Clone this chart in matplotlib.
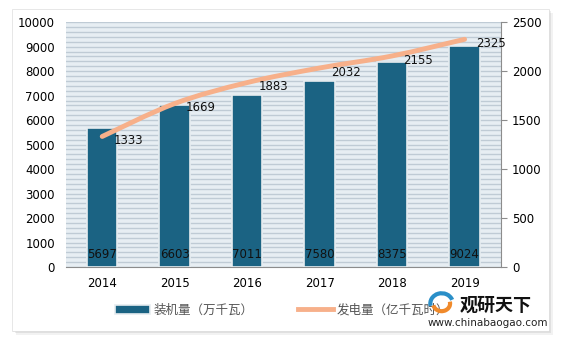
import matplotlib
matplotlib.use("Agg")
import matplotlib.pyplot as plt
from matplotlib.patches import Rectangle, Arc
from matplotlib.path import Path
from matplotlib.patches import PathPatch
import numpy as np

plt.rcParams['font.family'] = ['DejaVu Sans', 'Noto Sans CJK SC']

years = ['2014', '2015', '2016', '2017', '2018', '2019']
capacity = [5697, 6603, 7011, 7580, 8375, 9024]      # 装机量（万千瓦）
generation = [1333, 1669, 1883, 2032, 2155, 2325]    # 发电量（亿千瓦时）

bar_color = '#1b6383'
line_color = '#f7b08a'

fig = plt.figure(figsize=(5.64, 3.41), dpi=100)

# outer panel with a soft shadow
for i, a in enumerate([0.05, 0.07, 0.09]):
    d = (3 - i) * 0.004
    fig.patches.append(Rectangle((0.021 + d * 0.6, 0.03 - d), 0.952, 0.945,
                                 transform=fig.transFigure, facecolor='#000000',
                                 alpha=a, edgecolor='none', zorder=0))
fig.patches.append(Rectangle((0.021, 0.03), 0.952, 0.945, transform=fig.transFigure,
                             facecolor='white', edgecolor='#dddddd', lw=0.5, zorder=1))

ax = fig.add_axes([0.117, 0.217, 0.771, 0.718])
ax.set_facecolor('#e7eef3')
ax.set_zorder(2)
x = np.arange(len(years))

# striped background
ax.set_ylim(0, 10000)
ax.set_yticks(np.arange(0, 10001, 1000))
ax.set_yticks(np.arange(0, 10001, 200), minor=True)
ax.grid(True, which='both', axis='y', color='#bfcbd5', lw=1.0, zorder=0)
ax.set_axisbelow(True)

ax.bar(x, capacity, width=0.42, color=bar_color, edgecolor='#e6ecf0', lw=1.2,
       zorder=3, label='装机量（万千瓦）')
for xi, v in zip(x, capacity):
    ax.text(xi, 260, str(v), ha='center', va='bottom', fontsize=8.5,
            color='#111111', zorder=5)

ax.set_xlim(-0.5, len(years) - 0.5)
ax.set_xticks(x)
ax.set_xticklabels(years, fontsize=8.5)
ax.tick_params(axis='x', length=0, pad=7)
ax.tick_params(axis='y', which='both', length=0, labelsize=8.5, pad=8)
for s in ['left', 'top', 'right']:
    ax.spines[s].set_visible(False)
ax.spines['bottom'].set_color('#8c8c8c')

ax2 = ax.twinx()
ax2.set_ylim(0, 2500)
ax2.set_yticks(np.arange(0, 2501, 500))
ax2.tick_params(axis='y', length=4, color='#8c8c8c', labelsize=8.5, pad=4)
for s in ['left', 'top', 'bottom']:
    ax2.spines[s].set_visible(False)
ax2.spines['right'].set_color('#8c8c8c')

# smoothed line (Catmull-Rom as cubic Bezier)
pts = np.column_stack([x, generation]).astype(float)
ext = np.vstack([pts[0], pts, pts[-1]])
verts = [tuple(pts[0])]
codes = [Path.MOVETO]
for i in range(1, len(ext) - 2):
    p0, p1, p2, p3 = ext[i - 1], ext[i], ext[i + 1], ext[i + 2]
    c1 = p1 + (p2 - p0) / 6
    c2 = p2 - (p3 - p1) / 6
    verts += [tuple(c1), tuple(c2), tuple(p2)]
    codes += [Path.CURVE4] * 3
ax2.add_patch(PathPatch(Path(verts, codes), facecolor='none', edgecolor=line_color,
                        lw=3.5, capstyle='round', zorder=4))
ax2.plot([], [], color=line_color, lw=3.5, label='发电量（亿千瓦时）')
for xi, v in zip(x, generation):
    ax2.annotate(str(v), (xi, v), xytext=(8, -3), textcoords='offset points',
                 ha='left', va='center', fontsize=8.5, color='#111111', zorder=6)

# legend
h1, l1 = ax.get_legend_handles_labels()
h2, l2 = ax2.get_legend_handles_labels()
leg = fig.legend(h1 + h2, l1 + l2, loc='center', bbox_to_anchor=(0.5, 0.09),
                 ncol=2, frameon=True, fontsize=9, handlelength=2.8,
                 handletextpad=0.3, columnspacing=3.5, borderpad=0.5, fancybox=False)
leg.get_frame().set_edgecolor('none')
leg.get_frame().set_facecolor('white')
leg.set_zorder(5)
for t in leg.get_texts():
    t.set_color('#555555')
    t.set_family(['Noto Sans CJK SC', 'DejaVu Sans'])

# watermark
fig.text(0.815, 0.105, '观研天下', fontsize=13, fontweight='bold', color='#111111',
         family=['Noto Sans CJK SC'], ha='left', va='center', zorder=10)
fig.text(0.758, 0.052, 'www.chinabaogao.com', fontsize=7.5, color='#222222',
         ha='left', va='center', zorder=10)
fig.patches.append(Arc((0.783, 0.11), 0.04, 0.06, theta1=30, theta2=200,
                       transform=fig.transFigure, color='#2a8fc8', lw=3, zorder=10))
fig.patches.append(Arc((0.783, 0.11), 0.03, 0.045, theta1=200, theta2=380,
                       transform=fig.transFigure, color='#f08a2b', lw=3, zorder=10))

fig.savefig('out.png', dpi=100)
